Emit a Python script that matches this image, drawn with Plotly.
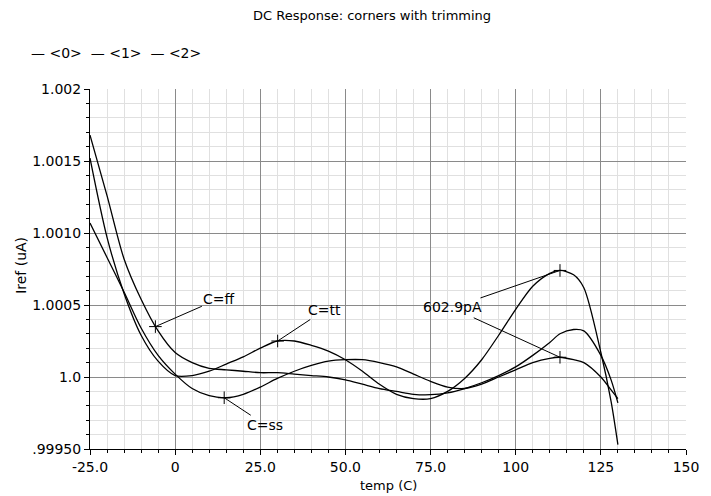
import plotly.graph_objects as go

# ---------------- data ----------------
series_names = ["<0>", "<1>", "<2>"]

temp_grid = [-25, -20, -15, -10, -5, 0, 5, 10, 15, 20, 25, 30, 35, 40, 45, 50, 55, 60,
             65, 70, 75, 80, 85, 90, 95, 100, 105, 110, 113, 117, 120, 125, 128, 130]

iref_ff = [1.00168, 1.00126, 1.00082, 1.00054, 1.00032, 1.00017, 1.00010, 1.00006, 1.00005,
           1.00004, 1.00003, 1.00003, 1.00002, 1.00001, 1.00000, 0.99998, 0.99995, 0.99992,
           0.99990, 0.99988, 0.999877, 0.99989, 0.99992, 0.99996, 1.00001, 1.00007, 1.00015,
           1.00024, 1.00030, 1.00033, 1.00032, 1.00015, 0.99998, 0.99982]

iref_tt = [1.00152, 1.00097, 1.00058, 1.00029, 1.00011, 1.00001, 1.00001, 1.00004, 1.00009,
           1.00014, 1.00020, 1.00025, 1.00025, 1.00022, 1.00018, 1.00012, 1.00004, 0.99995,
           0.99988, 0.99985, 0.99985, 0.99990, 0.99999, 1.00012, 1.00029, 1.00047, 1.00063,
           1.00072, 1.00074, 1.00071, 1.00062, 1.00017, 0.99983, 0.99953]

iref_ss = [1.00107, 1.00083, 1.00059, 1.00034, 1.00015, 1.00002, 0.99992, 0.99987, 0.999856,
           0.99988, 0.99993, 0.99999, 1.00004, 1.00008, 1.00011, 1.00012, 1.00012, 1.00010,
           1.00007, 1.00002, 0.99997, 0.99993, 0.99992, 0.99995, 1.00000, 1.00005, 1.00010,
           1.00013, 1.000137, 1.00012, 1.00010, 1.00000, 0.99991, 0.99985]

# corner markers and labels
marker_labels = ["C=ff", "C=tt", "C=ss"]
marker_temp = [-5.8, 30.1, 14.4]
marker_iref = [1.00035, 1.00025, 0.999856]

# delta marker (602.9pA) between the two peaks at ~113 C
delta_label = "602.9pA"
delta_temp = [113.0, 113.0]
delta_iref = [1.00074, 1.000137]

x_tickvals = [-25, 0, 25, 50, 75, 100, 125, 150]
x_ticktext = ["-25.0", "0", "25.0", "50.0", "75.0", "100", "125", "150"]
y_tickvals = [0.9995, 1.0, 1.0005, 1.0010, 1.0015, 1.002]
y_ticktext = [".99950", "1.0", "1.0005", "1.0010", "1.0015", "1.002"]

title_text = "DC Response: corners with trimming"
x_title = "temp (C)"
y_title = "Iref (uA)"

# ---------------- figure ----------------
FONT = "DejaVu Sans"
fig = go.Figure()

for name, ys in zip(series_names, [iref_ff, iref_tt, iref_ss]):
    fig.add_trace(go.Scatter(x=temp_grid, y=ys, mode="lines", name=name,
                             line=dict(color="black", width=1.3, shape="spline", smoothing=0.8)))

fig.add_trace(go.Scatter(x=marker_temp + delta_temp, y=marker_iref + delta_iref, mode="markers",
                         marker=dict(symbol="cross-thin", size=9, line=dict(color="black", width=1)),
                         showlegend=False))

# labelled markers with leader lines
offsets = [(64, -28), (47, -31), (41, 27)]
for lab, xv, yv, (ax, ay) in zip(marker_labels, marker_temp, marker_iref, offsets):
    fig.add_annotation(x=xv, y=yv, text=lab, showarrow=True, arrowhead=0, arrowwidth=1,
                       arrowcolor="black", ax=ax, ay=ay, standoff=0,
                       font=dict(family=FONT, size=14, color="black"))

delta_offsets = [(-107, 37), (-107, -49)]
for i, (xv, yv) in enumerate(zip(delta_temp, delta_iref)):
    fig.add_annotation(x=xv, y=yv, text=delta_label, showarrow=True, arrowhead=0, arrowwidth=1,
                       arrowcolor="black", ax=delta_offsets[i][0], ay=delta_offsets[i][1], standoff=0,
                       font=dict(family=FONT, size=14,
                                 color="black" if i == 0 else "rgba(0,0,0,0)"))

# title, legend-like text, axis titles
fig.add_annotation(xref="paper", yref="paper", x=0.473, y=1.205, text=title_text,
                   showarrow=False, xanchor="center", yanchor="middle",
                   font=dict(family=FONT, size=13, color="black"))
legend_text = "  ".join("\u2014 " + n.replace("<", "&lt;").replace(">", "&gt;") for n in series_names)
fig.add_annotation(xref="paper", yref="paper", x=-0.102, y=1.10, text=legend_text,
                   showarrow=False, xanchor="left", yanchor="middle",
                   font=dict(family=FONT, size=14, color="black"))
fig.add_annotation(xref="paper", yref="paper", x=0.5, y=-0.101, text=x_title,
                   showarrow=False, xanchor="center", yanchor="middle",
                   font=dict(family=FONT, size=13, color="black"))
fig.add_annotation(xref="paper", yref="paper", x=-0.115, y=0.51, text=y_title, textangle=-90,
                   showarrow=False, xanchor="center", yanchor="middle",
                   font=dict(family=FONT, size=14, color="black"))

fig.update_xaxes(range=[-25, 150], tickmode="array", tickvals=x_tickvals, ticktext=x_ticktext,
                 showgrid=True, gridcolor="#8a8a8a", gridwidth=1, zeroline=False,
                 showline=True, linecolor="black", linewidth=1, mirror=False,
                 ticks="outside", ticklen=5, tickcolor="black",
                 tickfont=dict(family=FONT, size=14, color="black"),
                 minor=dict(tickmode="linear", tick0=-25, dtick=5, showgrid=True,
                            gridcolor="#e0e0e0", gridwidth=1, ticks="outside", ticklen=3,
                            tickcolor="black"))
fig.update_yaxes(range=[0.9995, 1.002], tickmode="array", tickvals=y_tickvals, ticktext=y_ticktext,
                 showgrid=True, gridcolor="#8a8a8a", gridwidth=1, zeroline=False,
                 showline=True, linecolor="black", linewidth=1, mirror=False,
                 ticks="outside", ticklen=5, tickcolor="black",
                 tickfont=dict(family=FONT, size=14, color="black"),
                 minor=dict(tickmode="linear", tick0=0.9995, dtick=0.0001, showgrid=True,
                            gridcolor="#e0e0e0", gridwidth=1, ticks="outside", ticklen=3,
                            tickcolor="black"))

fig.update_layout(width=711, height=496, margin=dict(l=90, r=14, t=89, b=46.5, pad=0),
                  plot_bgcolor="white", paper_bgcolor="white", showlegend=False,
                  font=dict(family=FONT, color="black"))

fig.write_html("out.html", config={"displayModeBar": False},
               post_script="document.body.style.margin='0';")
